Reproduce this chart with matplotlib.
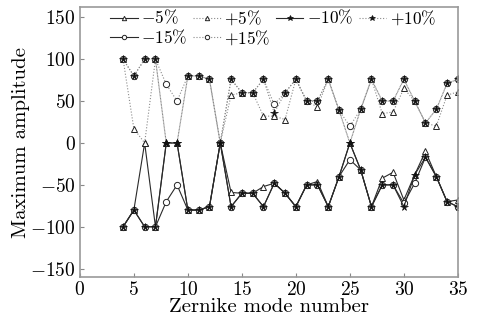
import matplotlib
matplotlib.use("Agg")
import matplotlib.pyplot as plt

plt.rcParams['font.family'] = 'serif'
plt.rcParams['font.serif'] = ['cmr10']
plt.rcParams['mathtext.fontset'] = 'cm'
plt.rcParams['axes.formatter.use_mathtext'] = True

modes = list(range(4, 36))

m5 = [-100, -80, 0, -100, 0, 0, -80, -80, -76, 0, -59, -60, -60, -52, -48, -60,
      -76, -50, -46, -76, -40, 0, -32, -76, -42, -35, -68, -38, -10, -40, -70, -68]
p5 = [100, 17, 0, 100, 0, 0, 80, 80, 76, 0, 57, 60, 60, 32, 32, 28,
      76, 50, 43, 76, 39, 0, 40, 76, 35, 37, 65, 50, 24, 20, 57, 61]
m10 = [-100, -80, -100, -100, 0, 0, -80, -80, -76, 0, -76, -60, -60, -76, -48, -60,
       -76, -50, -50, -76, -40, 0, -32, -76, -50, -50, -76, -38, -17, -40, -70, -76]
p10 = [100, 80, 100, 100, 0, 0, 80, 80, 76, 0, 76, 60, 60, 76, 36, 60,
       76, 50, 50, 76, 39, 0, 40, 76, 50, 50, 76, 50, 24, 40, 71, 76]
m15 = [-100, -80, -100, -100, -70, -50, -80, -80, -76, 0, -76, -60, -60, -76, -48, -60,
       -76, -50, -50, -76, -40, -20, -32, -76, -50, -50, -72, -48, -17, -40, -70, -76]
p15 = [100, 80, 100, 100, 70, 50, 80, 80, 76, 0, 76, 60, 60, 76, 46, 60,
       76, 50, 50, 76, 39, 20, 40, 76, 50, 50, 76, 50, 24, 40, 71, 76]

fig = plt.figure(figsize=(4.84, 3.26), dpi=100)
ax = fig.add_axes([0.165, 0.15, 0.781, 0.828])

solid = dict(color='#2a2a2a', lw=0.8, ls='-')
dotted = dict(color='#8a8a8a', lw=0.8, ls=':')
tri = dict(marker='^', ms=4.5, mfc='white', mec='#222222', mew=0.7)
circ = dict(marker='o', ms=4.5, mfc='white', mec='#222222', mew=0.7)
star = dict(marker='*', ms=5.5, mfc='#111111', mec='#111111', mew=0.5)

h_m5, = ax.plot(modes, m5, **solid, **tri)
h_p5, = ax.plot(modes, p5, **dotted, **tri)
h_m15, = ax.plot(modes, m15, **solid, **circ)
h_p15, = ax.plot(modes, p15, **dotted, **circ)
h_m10, = ax.plot(modes, m10, **solid, **star)
h_p10, = ax.plot(modes, p10, **dotted, **star)

ax.set_xlim(0, 35)
ax.set_ylim(-160, 162)
ax.set_xticks([0, 5, 10, 15, 20, 25, 30, 35])
ax.set_yticks([-150, -100, -50, 0, 50, 100, 150])
ax.tick_params(direction='in', length=3, labelsize=14, color='#888888',
               top=False, right=False, pad=3)
for s in ax.spines.values():
    s.set_color('#999999')
    s.set_linewidth(1.2)

ax.set_xlabel('Zernike mode number', fontsize=15, labelpad=-1)
ax.set_ylabel('Maximum amplitude', fontsize=15, labelpad=0)

ax.legend([h_m5, h_m15, h_p5, h_p15, h_m10, h_p10],
          ['$-5\\%$', '$-15\\%$', '$+5\\%$', '$+15\\%$', '$-10\\%$', '$+10\\%$'],
          ncol=4, loc='upper right', bbox_to_anchor=(0.97, 1.035), frameon=False,
          fontsize=12.5, handlelength=1.6, handletextpad=0.2, columnspacing=0.3,
          labelspacing=0.05, borderaxespad=0.2, markerscale=0.7)

fig.savefig('out.png', dpi=100)
